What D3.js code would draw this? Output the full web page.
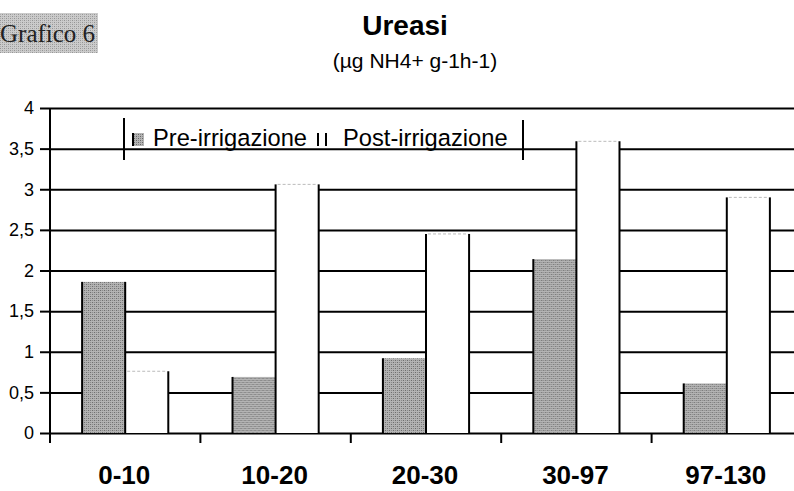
<!DOCTYPE html>
<html>
<head>
<meta charset="utf-8">
<script src="https://cdn.jsdelivr.net/npm/d3@7"></script>
<style>
  body { margin: 0; background: #fff; }
  svg { display: block; font-family: Arial, "Liberation Sans", sans-serif; }
</style>
</head>
<body>
<div id="chart"></div>
<script>
const categories = ["0-10", "10-20", "20-30", "30-97", "97-130"];
const series = ["Pre-irrigazione", "Post-irrigazione"];
const preValues = [1.86, 0.69, 0.92, 2.14, 0.61];
const postValues = [0.76, 3.06, 2.45, 3.59, 2.90];
const yTicks = [0, 0.5, 1, 1.5, 2, 2.5, 3, 3.5, 4];

const width = 794;
const height = 491;
const margin = {top: 108, right: -8, bottom: 58, left: 50};
const font = "Arial, 'Liberation Sans', sans-serif";

const data = categories.map((c, i) => ({cat: c, pre: preValues[i], post: postValues[i]}));

const svg = d3.select("#chart")
    .append("svg")
    .attr("width", width)
    .attr("height", height);

// stippled grey pattern for the pre-irrigation bars
const defs = svg.append("defs");
const pat = defs.append("pattern")
    .attr("id", "stipple")
    .attr("width", 4).attr("height", 4)
    .attr("patternUnits", "userSpaceOnUse");
pat.append("rect").attr("width", 4).attr("height", 4).attr("fill", "#b4b4b4");
pat.append("rect").attr("width", 1).attr("height", 1).attr("fill", "#666");
pat.append("rect").attr("x", 2).attr("y", 2).attr("width", 1).attr("height", 1).attr("fill", "#666");
pat.append("rect").attr("x", 2).attr("y", 0).attr("width", 1).attr("height", 1).attr("fill", "#888");
pat.append("rect").attr("x", 0).attr("y", 2).attr("width", 1).attr("height", 1).attr("fill", "#888");

const x = d3.scaleBand().domain(categories).range([margin.left, width - margin.right]).paddingInner(0.427).paddingOuter(0.2135);
const xSub = d3.scaleBand().domain(series).range([0, x.bandwidth()]);
const y = d3.scaleLinear().domain([0, 4]).range([height - margin.bottom, margin.top]);

// "Grafico 6" label
svg.append("rect")
    .attr("x", 0).attr("y", 13).attr("width", 98).attr("height", 40)
    .attr("fill", "url(#stipple)").attr("opacity", 0.7);
svg.append("text")
    .attr("x", 0).attr("y", 42)
    .attr("font-family", "'Liberation Serif', 'Times New Roman', serif")
    .attr("font-size", 25)
    .attr("fill", "#222")
    .text("Grafico 6");

// titles
svg.append("text")
    .attr("x", 405).attr("y", 35)
    .attr("text-anchor", "middle")
    .attr("font-weight", "bold")
    .attr("font-size", 28)
    .text("Ureasi");
svg.append("text")
    .attr("x", 415).attr("y", 68)
    .attr("text-anchor", "middle")
    .attr("font-size", 21)
    .text("(\u00b5g NH4+ g-1h-1)");

// gridlines
svg.append("g")
    .attr("class", "grid")
    .attr("transform", `translate(${margin.left},0)`)
    .call(d3.axisLeft(y).tickValues(yTicks).tickSize(-(width - margin.left)).tickFormat(""))
    .call(g => g.select(".domain").remove())
    .call(g => g.selectAll("line").attr("stroke", "#000").attr("stroke-width", 2));

// bars
const groups = svg.append("g")
    .attr("class", "bars")
    .selectAll("g")
    .data(data)
    .join("g")
    .attr("transform", d => `translate(${x(d.cat)},0)`);

groups.append("rect")
    .attr("x", xSub(series[0]))
    .attr("y", d => y(d.pre))
    .attr("width", xSub.bandwidth())
    .attr("height", d => y(0) - y(d.pre))
    .attr("fill", "url(#stipple)");

groups.append("rect")
    .attr("x", xSub(series[1]))
    .attr("y", d => y(d.post))
    .attr("width", xSub.bandwidth())
    .attr("height", d => y(0) - y(d.post))
    .attr("fill", "#fff");

groups.append("line")
    .attr("x1", xSub(series[1]) + 2).attr("x2", xSub(series[1]) + xSub.bandwidth() - 2)
    .attr("y1", d => y(d.post)).attr("y2", d => y(d.post))
    .attr("stroke", "#bbb").attr("stroke-width", 1).attr("stroke-dasharray", "3,2");

// vertical bar edges
groups.each(function(d) {
    const g = d3.select(this);
    const x0 = xSub(series[0]), x1 = xSub(series[1]), x2 = x1 + xSub.bandwidth();
    const top = Math.max(d.pre, d.post);
    g.append("line").attr("x1", x0).attr("x2", x0).attr("y1", y(d.pre)).attr("y2", y(0));
    g.append("line").attr("x1", x1).attr("x2", x1).attr("y1", y(top)).attr("y2", y(0));
    g.append("line").attr("x1", x2).attr("x2", x2).attr("y1", y(d.post)).attr("y2", y(0));
});
groups.selectAll("line:not([stroke])").attr("stroke", "#000").attr("stroke-width", 2);

// y axis
svg.append("g")
    .attr("transform", `translate(${margin.left},0)`)
    .call(d3.axisLeft(y).tickValues(yTicks).tickSize(10).tickPadding(6)
        .tickFormat(d => String(d).replace(".", ",")))
    .call(g => g.select(".domain").attr("stroke-width", 2).attr("d", `M0,${y(4)}V${y(0) + 10}`))
    .call(g => g.selectAll("line").attr("stroke-width", 2))
    .call(g => g.selectAll("text").attr("font-size", 18).attr("font-family", font));

// x axis ticks at category boundaries
const step = x.step();
const boundaries = categories.map(c => x(c) - x.paddingOuter() * step);
svg.append("g")
    .selectAll("line")
    .data(boundaries)
    .join("line")
    .attr("x1", d => d).attr("x2", d => d)
    .attr("y1", y(0)).attr("y2", y(0) + 10)
    .attr("stroke", "#000").attr("stroke-width", 2);

svg.append("g")
    .selectAll("text")
    .data(categories)
    .join("text")
    .attr("x", d => x(d) + x.bandwidth() / 2 - 1)
    .attr("y", 484)
    .attr("text-anchor", "middle")
    .attr("font-weight", "bold")
    .attr("font-size", 26)
    .text(d => d);

// legend
const legend = svg.append("g").attr("class", "legend");
legend.append("line").attr("x1", 124).attr("x2", 124).attr("y1", 118).attr("y2", 160)
    .attr("stroke", "#000").attr("stroke-width", 2);
legend.append("line").attr("x1", 523).attr("x2", 523).attr("y1", 120).attr("y2", 160)
    .attr("stroke", "#000").attr("stroke-width", 2);
legend.append("rect").attr("x", 132).attr("y", 133).attr("width", 12).attr("height", 13)
    .attr("fill", "url(#stipple)");
legend.append("line").attr("x1", 133).attr("x2", 133).attr("y1", 133).attr("y2", 146)
    .attr("stroke", "#000").attr("stroke-width", 2);
legend.append("text").attr("x", 153).attr("y", 146).attr("font-size", 23.7).text(series[0]);
legend.append("line").attr("x1", 318).attr("x2", 318).attr("y1", 133).attr("y2", 146)
    .attr("stroke", "#000").attr("stroke-width", 2);
legend.append("line").attr("x1", 326).attr("x2", 326).attr("y1", 133).attr("y2", 146)
    .attr("stroke", "#000").attr("stroke-width", 2);
legend.append("text").attr("x", 343).attr("y", 146).attr("font-size", 23.7).text(series[1]);
</script>
</body>
</html>
